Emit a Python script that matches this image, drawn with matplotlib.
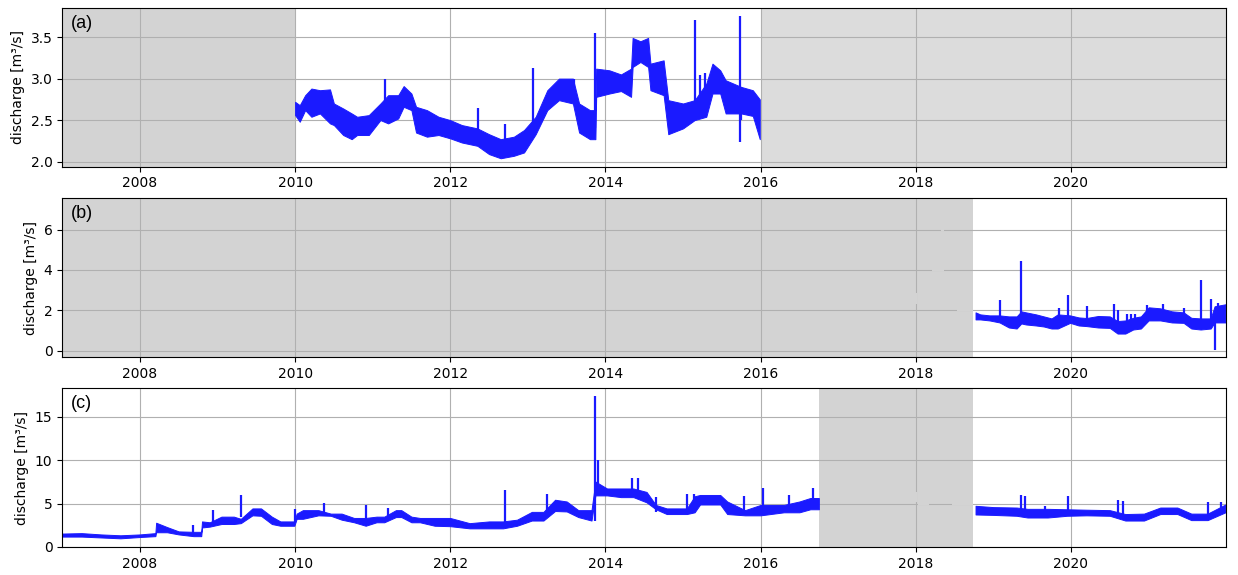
import matplotlib
matplotlib.use("Agg")
import matplotlib.pyplot as plt
import numpy as np
import pandas as pd

# --- data (decimal years, discharge in m3/s) ---
# (a) band envelope (low / high of the noisy record)
yr_a = [2010.00, 2010.06, 2010.13, 2010.21, 2010.32, 2010.45, 2010.50, 2010.62,
        2010.73, 2010.80, 2010.95, 2011.10, 2011.20, 2011.33, 2011.40, 2011.50,
        2011.56, 2011.70, 2011.85, 2012.00, 2012.15, 2012.35, 2012.50, 2012.65,
        2012.82, 2012.95, 2013.10, 2013.25, 2013.40, 2013.58, 2013.66, 2013.80,
        2013.87, 2013.88, 2014.05, 2014.20, 2014.33, 2014.35, 2014.45, 2014.55,
        2014.58, 2014.75, 2014.81, 2015.00, 2015.15, 2015.30, 2015.38, 2015.48,
        2015.55, 2015.75, 2015.90, 2015.99]
lo_a = [2.56, 2.48, 2.62, 2.54, 2.58, 2.46, 2.44, 2.32,
        2.27, 2.32, 2.32, 2.50, 2.46, 2.52, 2.66, 2.62,
        2.35, 2.30, 2.32, 2.28, 2.23, 2.19, 2.09, 2.04,
        2.07, 2.11, 2.33, 2.62, 2.74, 2.70, 2.35, 2.27,
        2.27, 2.78, 2.82, 2.85, 2.78, 3.14, 3.20, 3.14,
        2.86, 2.80, 2.33, 2.40, 2.50, 2.54, 2.82, 2.82,
        2.58, 2.58, 2.55, 2.27]
hi_a = [2.72, 2.68, 2.80, 2.88, 2.86, 2.87, 2.70, 2.64,
        2.58, 2.54, 2.56, 2.70, 2.80, 2.80, 2.91, 2.82,
        2.66, 2.62, 2.54, 2.50, 2.44, 2.40, 2.33, 2.27,
        2.30, 2.38, 2.54, 2.86, 3.00, 3.00, 2.70, 2.62,
        2.62, 3.12, 3.10, 3.05, 3.12, 3.49, 3.45, 3.49,
        3.18, 3.22, 2.74, 2.70, 2.74, 2.94, 3.18, 3.10,
        2.98, 2.90, 2.86, 2.75]
spk_yr_a = [2011.16, 2012.36, 2012.70, 2013.07, 2013.60, 2013.86, 2015.15, 2015.22, 2015.28, 2015.74, 2015.75]
spk_lo_a = [2.50, 2.30, 2.20, 2.40, 2.70, 2.40, 2.50, 2.60, 2.60, 2.23, 2.50]
spk_hi_a = [3.00, 2.65, 2.45, 3.13, 3.00, 3.55, 3.71, 3.04, 3.07, 3.75, 2.90]

# (b)
yr_b = [2018.77, 2018.83, 2018.95, 2019.08, 2019.20, 2019.30, 2019.36, 2019.42,
        2019.55, 2019.65, 2019.75, 2019.83, 2019.99, 2020.10, 2020.20, 2020.35,
        2020.50, 2020.60, 2020.70, 2020.80, 2020.90, 2021.00, 2021.15, 2021.30,
        2021.45, 2021.55, 2021.67, 2021.80, 2021.85, 2021.99]
lo_b = [1.55, 1.55, 1.50, 1.40, 1.15, 1.10, 1.35, 1.30,
        1.25, 1.20, 1.10, 1.10, 1.38, 1.25, 1.22, 1.15,
        1.13, 0.85, 0.85, 1.05, 1.10, 1.50, 1.50, 1.40,
        1.38, 1.10, 1.05, 1.10, 1.40, 1.40]
hi_b = [1.90, 1.80, 1.75, 1.75, 1.70, 1.70, 1.95, 1.90,
        1.80, 1.70, 1.60, 1.80, 1.75, 1.65, 1.62, 1.72,
        1.70, 1.47, 1.50, 1.63, 1.70, 2.15, 2.10, 1.95,
        1.90, 1.63, 1.60, 1.60, 2.20, 2.30]
spk_yr_b = [2019.08, 2019.35, 2019.85, 2019.96, 2020.21, 2020.55, 2020.60, 2020.72,
            2020.77, 2020.82, 2020.98, 2021.18, 2021.45, 2021.67, 2021.80, 2021.86, 2021.90]
spk_lo_b = [1.50, 1.50, 1.40, 1.40, 1.30, 1.20, 1.10, 1.20, 1.20, 1.20, 1.60, 1.50, 1.50, 1.30, 1.30, 0.05, 1.50]
spk_hi_b = [2.50, 4.43, 2.13, 2.75, 2.22, 2.30, 2.00, 1.80, 1.80, 1.80, 2.27, 2.30, 2.13, 3.52, 2.58, 1.40, 2.35]

# (c)
yr_c = [2007.00, 2007.25, 2007.50, 2007.75, 2008.00, 2008.20, 2008.21, 2008.35,
        2008.50, 2008.69, 2008.79, 2008.80, 2008.90, 2009.05, 2009.21, 2009.30,
        2009.45, 2009.56, 2009.70, 2009.81, 2009.99, 2010.02, 2010.10, 2010.30,
        2010.46, 2010.60, 2010.76, 2010.91, 2011.05, 2011.15, 2011.30, 2011.37,
        2011.50, 2011.61, 2011.80, 2012.00, 2012.25, 2012.50, 2012.68, 2012.86,
        2013.05, 2013.20, 2013.35, 2013.50, 2013.65, 2013.82, 2013.87, 2014.02,
        2014.20, 2014.36, 2014.53, 2014.65, 2014.79, 2015.05, 2015.15, 2015.22,
        2015.35, 2015.48, 2015.57, 2015.80, 2016.00, 2016.30, 2016.50, 2016.64,
        2016.75,
        2018.77, 2019.00, 2019.30, 2019.44, 2019.70, 2019.95, 2020.20, 2020.50,
        2020.70, 2020.94, 2021.15, 2021.37, 2021.55, 2021.76, 2021.99]
lo_c = [1.20, 1.20, 1.10, 1.00, 1.15, 1.25, 1.70, 1.70,
        1.45, 1.25, 1.25, 2.25, 2.35, 2.65, 2.65, 2.75,
        3.65, 3.60, 2.65, 2.45, 2.45, 3.25, 3.25, 3.65,
        3.60, 3.15, 2.85, 2.45, 2.85, 2.85, 3.45, 3.45,
        2.85, 2.85, 2.45, 2.40, 2.15, 2.15, 2.15, 2.45,
        3.05, 3.05, 4.15, 4.10, 3.45, 3.05, 5.95, 5.95,
        5.75, 5.75, 5.15, 4.35, 3.80, 3.80, 4.00, 4.90,
        4.90, 4.90, 3.80, 3.65, 3.65, 4.00, 4.00, 4.35,
        4.35,
        3.75, 3.70, 3.60, 3.40, 3.40, 3.60, 3.65, 3.60,
        3.05, 3.05, 3.80, 3.80, 3.10, 3.10, 4.00]
hi_c = [1.55, 1.60, 1.45, 1.35, 1.45, 1.60, 2.80, 2.30,
        1.80, 1.75, 1.75, 2.95, 2.85, 3.50, 3.50, 3.25,
        4.45, 4.45, 3.50, 2.95, 2.95, 3.85, 4.25, 4.25,
        3.85, 3.85, 3.35, 3.35, 3.50, 3.50, 4.25, 4.25,
        3.50, 3.35, 3.35, 3.35, 2.75, 2.95, 2.95, 3.15,
        4.05, 4.05, 5.45, 5.25, 4.25, 4.25, 7.55, 6.75,
        6.75, 6.75, 6.35, 4.85, 4.45, 4.45, 5.85, 6.00,
        6.00, 6.00, 5.25, 4.25, 4.85, 4.85, 5.25, 5.65,
        5.65,
        4.75, 4.60, 4.55, 4.40, 4.40, 4.35, 4.30, 4.25,
        3.80, 3.85, 4.55, 4.55, 3.85, 3.85, 4.90]
spk_yr_c = [2008.68, 2008.94, 2009.02, 2009.30, 2010.00, 2010.37, 2010.92, 2011.20,
            2012.70, 2013.24, 2013.86, 2013.91, 2014.34, 2014.42, 2014.65, 2015.05,
            2015.14, 2015.79, 2016.03, 2016.37, 2016.68,
            2019.35, 2019.41, 2019.67, 2019.96, 2020.60, 2020.67, 2021.76, 2021.93]
spk_lo_c = [1.5, 2.8, 2.0, 3.5, 2.8, 3.6, 3.0, 3.6,
            2.6, 4.0, 3.0, 6.0, 6.0, 5.5, 4.0, 4.0,
            4.0, 4.0, 4.0, 4.2, 4.5,
            4.0, 4.0, 3.8, 3.8, 3.5, 3.5, 3.5, 4.2]
spk_hi_c = [2.5, 4.3, 2.0, 6.0, 4.4, 5.1, 4.9, 4.5,
            6.6, 6.15, 17.4, 10.0, 7.96, 7.9, 5.8, 6.1,
            6.1, 5.85, 6.85, 5.96, 6.85,
            6.04, 5.85, 4.7, 5.85, 5.46, 5.3, 5.2, 5.2]

# missing-data periods (shaded)
gap_start_a = ["2007-01-01", "2016-01-01"]
gap_end_a = ["2010-01-01", "2022-01-01"]
gap_start_b = ["2007-01-01"]
gap_end_b = ["2018-09-28"]
gap_start_c = ["2016-09-30"]
gap_end_c = ["2018-09-28"]

# short gray strokes over the grid inside the gaps (x0, x1, y0, y1 in decimal years / data)
gray_b = [(2018.32, 2018.36, 6, 6), (2018.21, 2018.36, 4, 4), (2018.525, 2018.74, 2, 2),
          (2018.0, 2018.0, 2.3, 2.85)]
gray_c = [(2018.03, 2018.17, 5, 5), (2018.46, 2018.74, 5, 5), (2018.0, 2018.0, 5.16, 6.4)]


def yr(v):
    v = np.atleast_1d(v)
    out = []
    for x in v:
        y = int(x)
        s = pd.Timestamp(year=y, month=1, day=1)
        e = pd.Timestamp(year=y + 1, month=1, day=1)
        out.append(s + (e - s) * (x - y))
    return pd.DatetimeIndex(out)


BLUE = "#1a1aff"
fig, axes = plt.subplots(3, 1, figsize=(12.38, 5.75), dpi=100)
fig.subplots_adjust(left=0.0503, right=0.9903, top=0.986, bottom=0.0487, hspace=0.20)

panels = [
    ("(a)", yr_a, lo_a, hi_a, spk_yr_a, spk_lo_a, spk_hi_a, gap_start_a, gap_end_a,
     ["#d3d3d3", "#dcdcdc"], (1.94, 3.85), [2.0, 2.5, 3.0, 3.5], []),
    ("(b)", yr_b, lo_b, hi_b, spk_yr_b, spk_lo_b, spk_hi_b, gap_start_b, gap_end_b,
     ["#d3d3d3"], (-0.30, 7.55), [0, 2, 4, 6], gray_b),
    ("(c)", yr_c, lo_c, hi_c, spk_yr_c, spk_lo_c, spk_hi_c, gap_start_c, gap_end_c,
     ["#d3d3d3"], (0.0, 18.28), [0, 5, 10, 15], gray_c),
]

for ax, (lab, t, lo, hi, st, slo, shi, gs, ge, gc, ylim, yt, gstrokes) in zip(axes, panels):
    for s, e, c in zip(gs, ge, gc):
        ax.axvspan(pd.Timestamp(s), pd.Timestamp(e), color=c, lw=0, zorder=1)
    for x0, x1, y0, y1 in gstrokes:
        ax.plot(yr([x0, x1]), [y0, y1], color="#d3d3d3", lw=1.6, zorder=1.7,
                solid_capstyle="butt")
    tt = yr(t)
    lo = np.array(lo); hi = np.array(hi)
    # split the band where the record has a long gap
    segs = np.split(np.arange(len(t)), np.where(np.diff(np.asarray(t)) > 1.0)[0] + 1)
    for sg in segs:
        ax.fill_between(tt[sg], lo[sg], hi[sg], color=BLUE, lw=0.7, edgecolor=BLUE, zorder=2)
    ax.vlines(yr(st), slo, shi, color=BLUE, lw=1.6, zorder=2)
    ax.set_xlim(pd.Timestamp("2007-01-01"), pd.Timestamp("2021-12-31"))
    ax.set_ylim(*ylim)
    ax.set_yticks(yt)
    ax.grid(True, color="#b0b0b0", lw=0.8)
    ax.set_ylabel("discharge [m³/s]")
    ax.text(0.007, 0.905, lab, transform=ax.transAxes, fontsize=13,
            family=["Liberation Sans", "DejaVu Sans"], va="center", ha="left")

fig.savefig("out.png", dpi=100)
